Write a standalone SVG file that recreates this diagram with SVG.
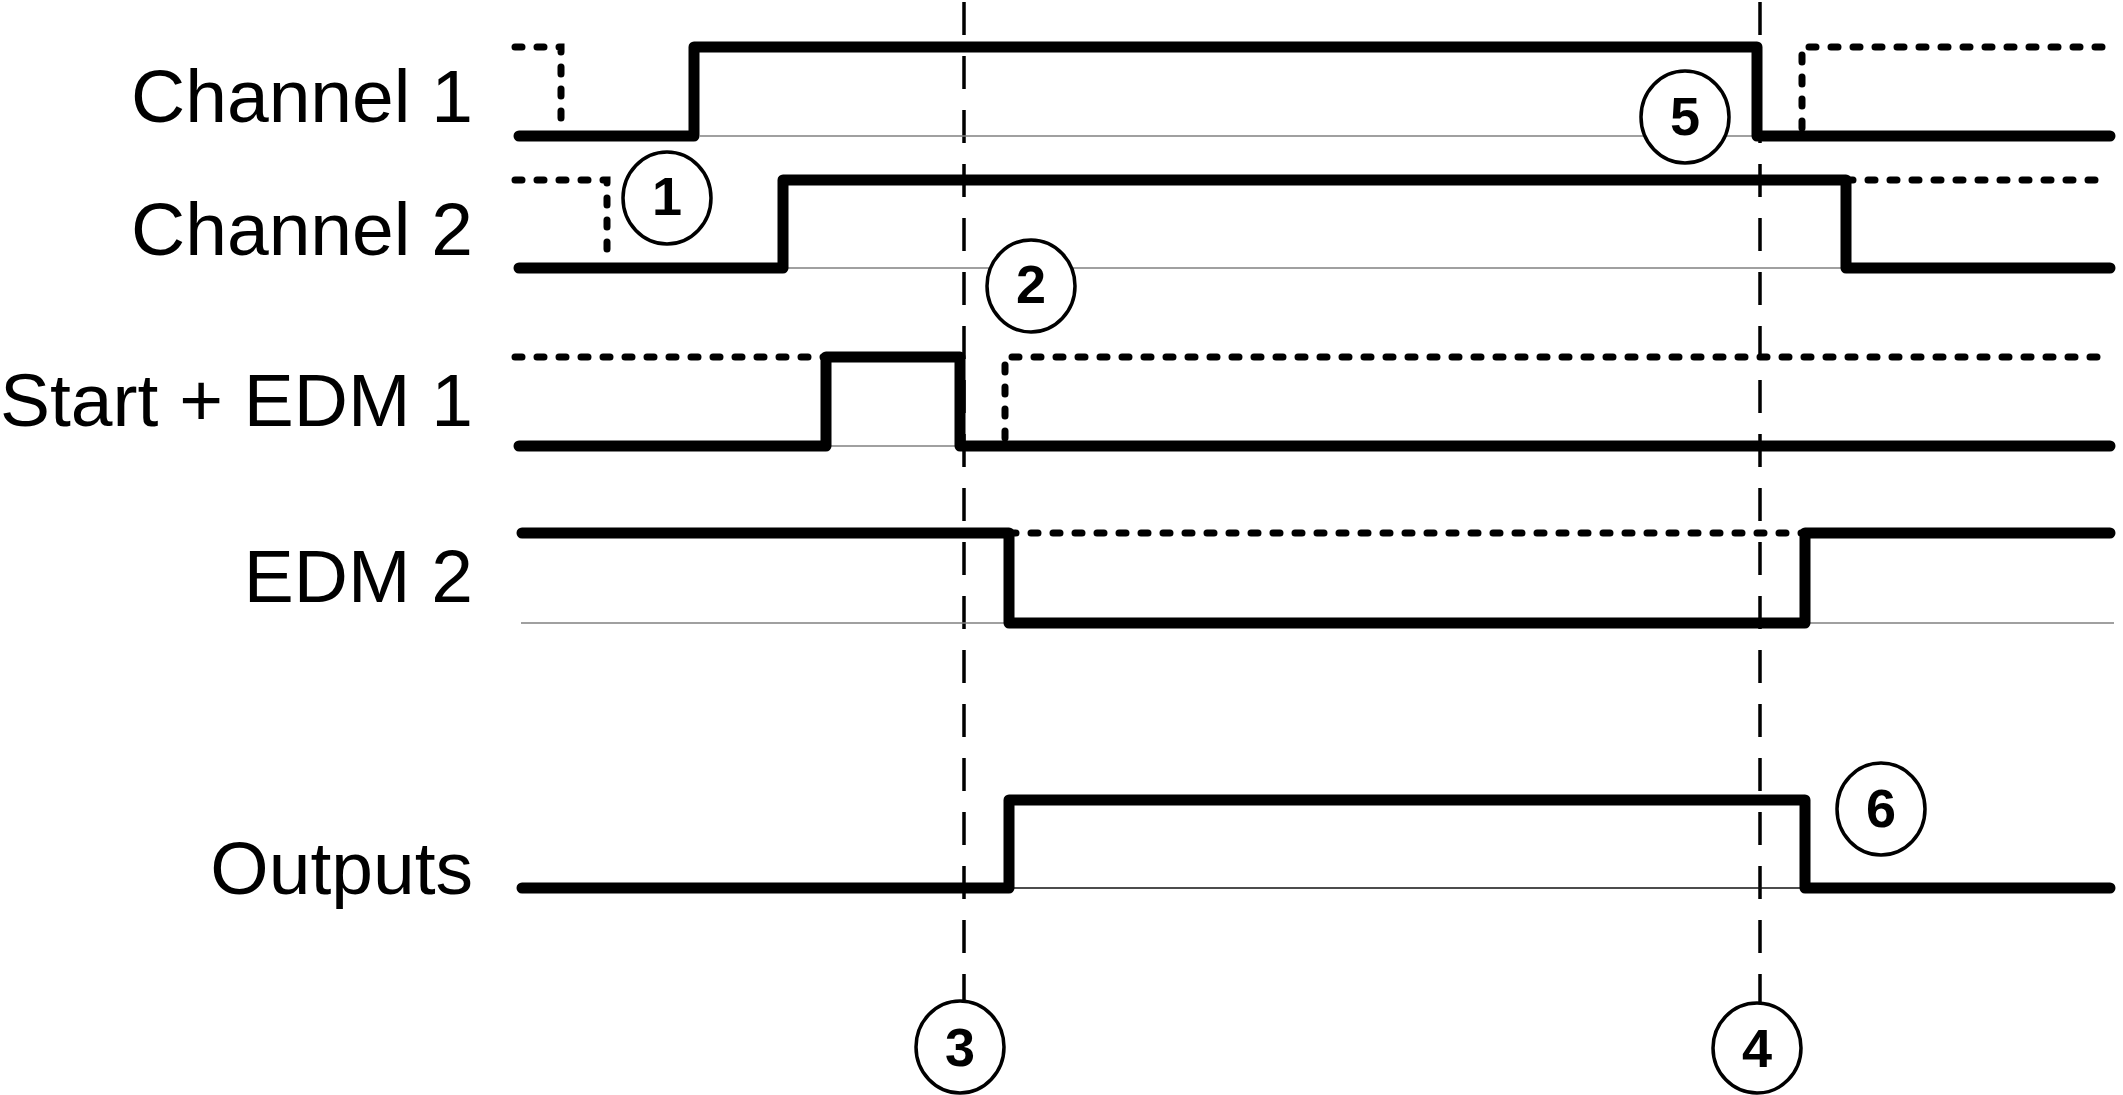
<svg xmlns="http://www.w3.org/2000/svg" width="2123" height="1095" viewBox="0 0 2123 1095">
<style>
.lbl{font-family:"Liberation Sans",Arial,sans-serif;font-size:75px;fill:#000;text-anchor:end}
.num{font-family:"Liberation Sans",Arial,sans-serif;font-size:54px;font-weight:bold;fill:#000;text-anchor:middle}
.sig{fill:none;stroke:#000;stroke-width:11;stroke-linejoin:round;stroke-linecap:round}
.dot{fill:none;stroke:#000;stroke-width:7;stroke-linecap:round;stroke-dasharray:7 15}
.base{fill:none;stroke:#808080;stroke-width:1.6}
.guide{fill:none;stroke:#000;stroke-width:3.5;stroke-dasharray:33 21}
.ring{fill:#fff;stroke:#000;stroke-width:3.5}
</style>
<rect width="2123" height="1095" fill="#fff"/>
<g id="connectors">
<path class="guide" d="M964,2 V1001"/>
<path class="guide" d="M1760,2 V1002"/>
</g>
<g id="channel1">
<text class="lbl" x="473" y="122">Channel 1</text>
<path class="base" d="M700,136 H1757"/>
<path class="dot" d="M515,47 H561 V125"/>
<path class="dot" d="M1802,128 V47 H2105"/>
<path class="sig" d="M519,136 H694 V47 H1757 V136 H2110"/>
</g>
<g id="channel2">
<text class="lbl" x="473" y="255">Channel 2</text>
<path class="base" d="M788,268 H1846"/>
<path class="dot" d="M515,180 H607 V258"/>
<path class="dot" d="M1846,180 H2105"/>
<path class="sig" d="M519,268 H783 V180 H1846 V268 H2110"/>
</g>
<g id="start-edm1">
<text class="lbl" x="473" y="426">Start + EDM 1</text>
<path class="base" d="M826,446 H960"/>
<path class="dot" d="M515,357 H826"/>
<path class="dot" d="M1005,438 V357 H2110"/>
<path class="sig" d="M519,446 H826 V357 H960 V446 H2110"/>
</g>
<g id="edm2">
<text class="lbl" x="473" y="602">EDM 2</text>
<path class="base" d="M521,623 H2114"/>
<path class="dot" d="M1009,533 H1805"/>
<path class="sig" d="M522,533 H1009 V623 H1805 V533 H2110"/>
</g>
<g id="outputs">
<text class="lbl" x="473" y="894">Outputs</text>
<path d="M1009,888 H1805" fill="none" stroke="#111" stroke-width="1.3"/>
<path class="sig" d="M522,888 H1009 V800 H1805 V888 H2110"/>
</g>
<g id="marker1">
<ellipse class="ring" cx="667" cy="198" rx="44" ry="46"/>
<text class="num" x="667" y="215">1</text>
</g>
<g id="marker2">
<ellipse class="ring" cx="1031" cy="286" rx="44" ry="46"/>
<text class="num" x="1031" y="303">2</text>
</g>
<g id="marker3">
<ellipse class="ring" cx="960" cy="1047" rx="44" ry="46"/>
<text class="num" x="960" y="1066">3</text>
</g>
<g id="marker4">
<ellipse class="ring" cx="1757" cy="1048" rx="44" ry="45"/>
<text class="num" x="1757" y="1067">4</text>
</g>
<g id="marker5">
<ellipse class="ring" cx="1685" cy="117" rx="44" ry="46"/>
<text class="num" x="1685" y="135">5</text>
</g>
<g id="marker6">
<ellipse class="ring" cx="1881" cy="809" rx="44" ry="46"/>
<text class="num" x="1881" y="827">6</text>
</g>
</svg>
